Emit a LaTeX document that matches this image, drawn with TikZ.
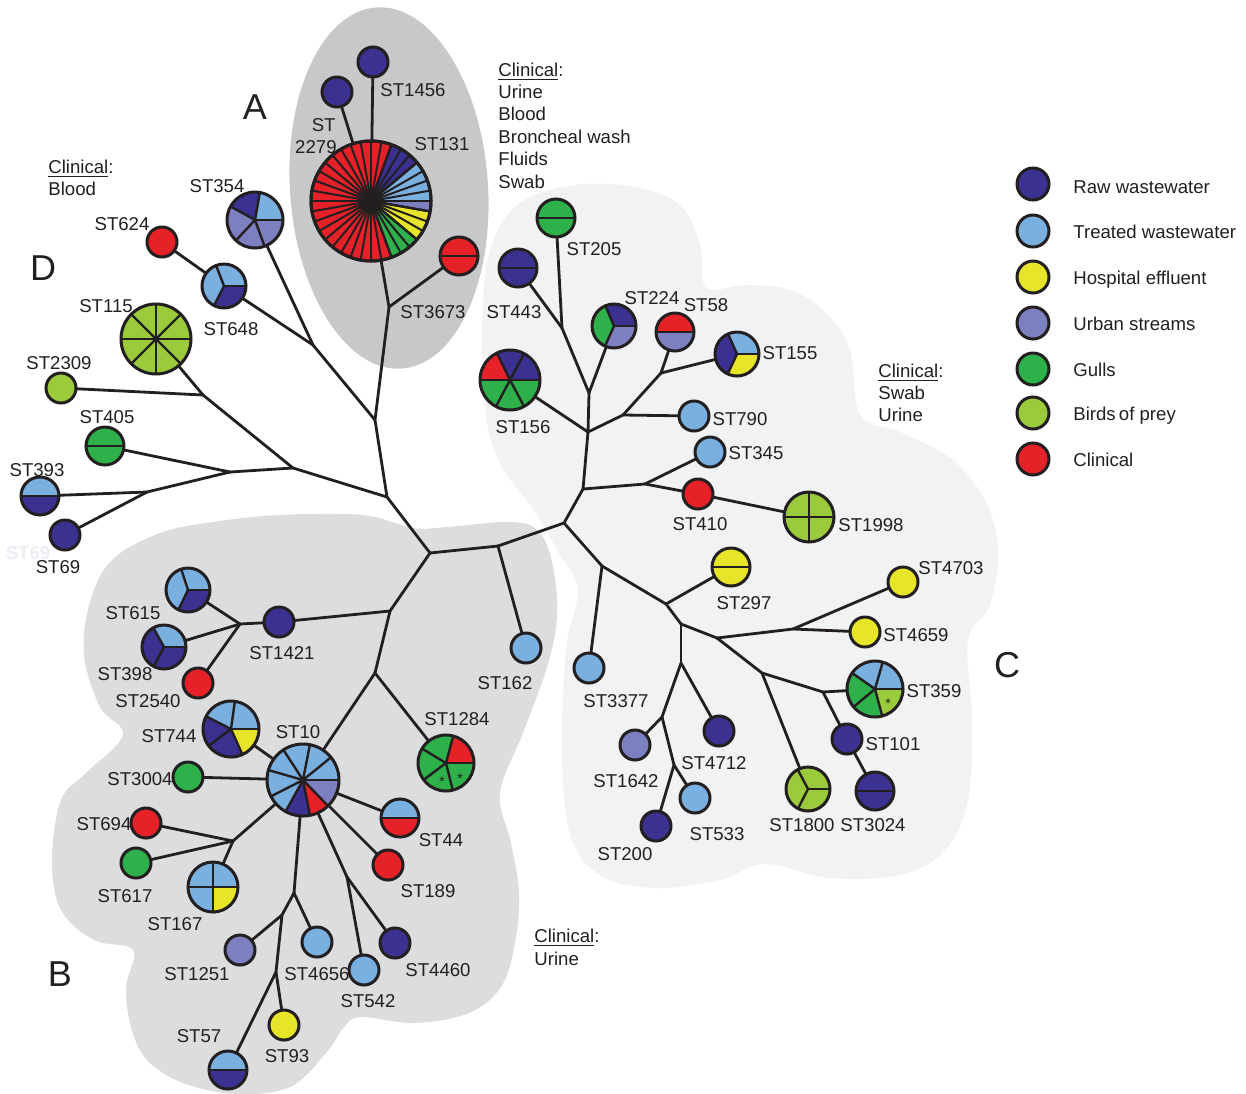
\documentclass[tikz,border=0pt]{standalone}
\usepackage{fontspec}
\setmainfont{Liberation Sans}
\definecolor{ink}{HTML}{231F20}
\definecolor{rawww}{HTML}{3A3191}
\definecolor{treated}{HTML}{7AB0DF}
\definecolor{hosp}{HTML}{E6E52A}
\definecolor{urban}{HTML}{7C80C0}
\definecolor{gulls}{HTML}{2EB04B}
\definecolor{prey}{HTML}{9BCB3C}
\definecolor{clin}{HTML}{E62128}
\definecolor{zoneA}{HTML}{C7C8CA}
\definecolor{zoneB}{HTML}{DCDDDF}
\definecolor{zoneC}{HTML}{F1F2F3}
\definecolor{ghost}{HTML}{EDEDF3}

\newcommand\lbfont{\fontsize{9.3pt}{11.2pt}\selectfont}
\newcommand\bigfont{\fontsize{18pt}{21pt}\selectfont}
\newcommand\starfont{\fontsize{7pt}{8pt}\selectfont}

\tikzset{
  edge/.style={line width=1.4pt, draw=ink, line cap=round},
  ring/.style={line width=1.5pt, draw=ink},
  seg/.style={line width=1.2pt, draw=ink},
  smp/.style={circle, inner sep=0pt, outer sep=0pt},
  lab/.style={anchor=base, inner sep=0pt, font=\lbfont, text=ink},
  labw/.style={lab, anchor=base west},
  labe/.style={lab, anchor=base east},
  zonelabel/.style={anchor=base, inner sep=0pt, font=\bigfont, text=ink},
  starmark/.style={anchor=base, inner sep=0pt, font=\starfont, text=ink},
}

% single-colour sample: name, x, y, radius, colour
\newcommand\spot[5]{\node[smp, ring, fill=#5, minimum size=#4pt] (#1) at (#2,#3) {};}
% pie sample: name, x, y, radius, list start/end/colour
\newcommand\piespot[5]{%
  \node[smp, minimum size=#4pt] (#1) at (#2,#3) {};
  \foreach \a/\b/\col in {#5}{\fill[\col] (#1.center) -- ++(\a:#4) arc[start angle=\a, end angle=\b, radius=#4] -- cycle;}
  \foreach \a/\b/\col in {#5}{\draw[seg] (#1.center) -- ++(\a:#4);}
  \draw[ring] (#1.center) circle[radius=#4];
}

\begin{document}
\begin{tikzpicture}[x=0.5pt,y=0.5pt]
\useasboundingbox (0,0) rectangle (1246,-1093);
\fill[white] (0,0) rectangle (1246,-1093);

% ---------- cluster backgrounds ----------
\fill[zoneC] plot[smooth cycle, tension=0.6] coordinates {
 (482,-330) (490,-250) (520,-203) (575,-185) (635,-187) (680,-205) (700,-245)
 (706,-288) (745,-285) (790,-290) (825,-312) (850,-350) (860,-415) (900,-432)
 (950,-458) (985,-500) (998,-550) (990,-605) (968,-640) (972,-720) (968,-800)
 (945,-850) (900,-875) (830,-878) (765,-864) (720,-880) (660,-888) (605,-878)
 (572,-840) (562,-760) (566,-650) (578,-590) (560,-555) (535,-512) (500,-463)
 (485,-410)};
\fill[zoneB] plot[smooth cycle, tension=0.6] coordinates {
 (112,-560) (160,-533) (213,-522) (280,-515) (363,-515) (413,-528) (447,-527)
 (513,-522) (540,-533) (553,-567) (557,-617) (547,-667) (523,-733) (500,-793)
 (511,-843) (519,-893) (515,-943) (501,-987) (469,-1013) (415,-1023) (361,-1017)
 (344,-1027) (326,-1053) (290,-1087) (236,-1094) (183,-1083) (147,-1060)
 (131,-1027) (126,-987) (133,-950) (94,-940) (61,-910) (52,-860) (61,-800)
 (86,-773) (123,-735) (100,-707) (84,-655) (90,-602)};
\fill[zoneA, rotate around={4:(389,-188)}] (389,-188) ellipse[x radius=99, y radius=181];

% ---------- cluster A ----------
\spot{s1456}{373}{-62}{15}{rawww}
\spot{s2279}{337}{-92}{15}{rawww}
\piespot{s131}{371}{-201}{60}{0/40/treated,40/70/rawww,70/290/clin,290/320/gulls,320/350/hosp,350/360/urban}
\foreach \t in {0,10,...,350}{\draw[seg, line width=1pt] (s131.center) -- ++(\t:60);}
\draw[ring] (s131.center) circle[radius=60];
\piespot{s3673}{459}{-256}{19}{0/180/clin,180/360/clin}

% ---------- cluster D ----------
\piespot{s354}{255}{-220}{28}{0/80/treated,80/151/rawww,151/227/urban,227/290/urban,290/360/urban}
\spot{s624}{162}{-242}{15}{clin}
\piespot{s648}{224}{-286}{22}{0/111/treated,111/243/treated,243/360/rawww}
\piespot{s115}{156}{-339}{35}{0/45/prey,45/90/prey,90/135/prey,135/180/prey,180/225/prey,225/270/prey,270/315/prey,315/360/prey}
\spot{s2309}{61}{-388}{15}{prey}
\piespot{s405}{105}{-446}{19}{0/180/gulls,180/360/gulls}
\piespot{s393}{40}{-496}{19}{0/180/treated,180/360/rawww}
\spot{s69}{65}{-535}{15}{rawww}

% ---------- cluster B ----------
\piespot{s615}{188}{-590}{22}{0/108/treated,108/244/treated,244/360/rawww}
\piespot{s398}{164}{-647}{22}{0/119/treated,119/242/rawww,242/360/rawww}
\spot{s2540}{198}{-683}{15}{clin}
\spot{s1421}{279}{-622}{15}{rawww}
\spot{s162}{526}{-648}{15}{treated}
\piespot{s744}{231}{-729}{28}{0/82/treated,82/153/treated,153/217/rawww,217/294/rawww,294/360/hosp}
\piespot{s10}{303}{-780}{36}{0/39/treated,39/79/treated,79/123/treated,123/164/treated,164/207/treated,207/241/treated,241/281/rawww,281/314/clin,314/360/urban}
\piespot{s1284}{446}{-763}{28}{0/75/clin,75/149/gulls,149/217/gulls,217/284/gulls,284/360/gulls}
\spot{s3004}{188}{-777}{15}{gulls}
\spot{s694}{146}{-823}{15}{clin}
\spot{s617}{136}{-863}{15}{gulls}
\piespot{s167}{213}{-887}{25}{0/90/treated,90/180/treated,180/270/treated,270/360/hosp}
\piespot{s44}{400}{-818}{19}{0/180/treated,180/360/clin}
\spot{s189}{388}{-865}{15}{clin}
\spot{s4460}{395}{-943}{15}{rawww}
\spot{s542}{364}{-970}{15}{treated}
\spot{s4656}{317}{-942}{15}{treated}
\spot{s1251}{240}{-950}{15}{urban}
\spot{s93}{284}{-1025}{15}{hosp}
\piespot{s57}{228}{-1070}{19}{0/180/treated,180/360/rawww}

% ---------- cluster C ----------
\piespot{s205}{556}{-218}{19}{0/180/gulls,180/360/gulls}
\piespot{s443}{518}{-268}{19}{0/180/rawww,180/360/rawww}
\piespot{s224}{614}{-326}{22}{0/113/rawww,113/246/gulls,246/360/urban}
\piespot{s58}{675}{-332}{19}{0/180/clin,180/360/urban}
\piespot{s155}{737}{-354}{22}{0/114/treated,114/245/rawww,245/360/hosp}
\piespot{s156}{510}{-380}{30}{0/62/rawww,62/116/rawww,116/180/clin,180/242/gulls,242/298/gulls,298/360/gulls}
\spot{s790}{694}{-416}{15}{treated}
\spot{s345}{710}{-452}{15}{treated}
\spot{s410}{698}{-494}{15}{clin}
\piespot{s1998}{809}{-517}{25}{0/90/prey,90/180/prey,180/270/prey,270/360/prey}
\piespot{s297}{731}{-567}{19}{0/180/hosp,180/360/hosp}
\spot{s4703}{903}{-582}{15}{hosp}
\spot{s4659}{865}{-632}{15}{hosp}
\piespot{s359}{875}{-689}{28}{0/74/treated,74/145/treated,145/220/gulls,220/285/gulls,285/360/prey}
\spot{s3377}{589}{-668}{15}{treated}
\spot{s4712}{719}{-731}{15}{rawww}
\spot{s1642}{635}{-745}{15}{urban}
\spot{s101}{847}{-739}{15}{rawww}
\piespot{s3024}{875}{-791}{19}{0/180/rawww,180/360/rawww}
\piespot{s1800}{808}{-789}{22}{0/118/prey,118/243/prey,243/360/prey}
\spot{s533}{695}{-798}{15}{treated}
\spot{s200}{656}{-826}{15}{rawww}

% asterisks inside segments
\node[starmark] (k1) at (442,-786) {*};
\node[starmark] (k2) at (460,-783) {*};
\node[starmark] (k3) at (888,-708) {*};

% ---------- branch points ----------
\coordinate (h0) at (387,-497);
\coordinate (jA1) at (375,-420);
\coordinate (jA2) at (389,-307);
\coordinate (jD0) at (313,-345);
\coordinate (jD2) at (293,-468);
\coordinate (jD3) at (203,-395);
\coordinate (jD4) at (230,-472);
\coordinate (jD5) at (147,-492);
\coordinate (jB1) at (430,-553);
\coordinate (jB2) at (498,-546);
\coordinate (jB3) at (390,-611);
\coordinate (jB4) at (240,-624);
\coordinate (jB5) at (375,-673);
\coordinate (jB6) at (233,-841);
\coordinate (jB7) at (347,-877);
\coordinate (jB8) at (294,-893);
\coordinate (jB9) at (282,-915);
\coordinate (jB10) at (276,-972);
\coordinate (jC0) at (564,-523);
\coordinate (jC1) at (583,-489);
\coordinate (jC2) at (645,-484);
\coordinate (jC3) at (588,-432);
\coordinate (jC4) at (623,-415);
\coordinate (jC6) at (661,-373);
\coordinate (jC7) at (589,-393);
\coordinate (jC8) at (562,-328);
\coordinate (jC5) at (602,-566);
\coordinate (jC9) at (666,-604);
\coordinate (jC10) at (681,-624);
\coordinate (jC11) at (717,-638);
\coordinate (jC12) at (681,-663);
\coordinate (jC13) at (793,-629);
\coordinate (jC14) at (762,-673);
\coordinate (jC15) at (823,-692);
\coordinate (jC16) at (662,-717);
\coordinate (jC17) at (674,-765);

% ---------- tree ----------
\foreach \u/\v in {h0/jA1, jA1/jA2, jA2/s131, jA2/s3673, s131/s1456, s131/s2279,
  jA1/jD0, jD0/s354, jD0/s648, s648/s624,
  h0/jD2, jD2/jD3, jD3/s115, jD3/s2309, jD2/jD4, jD4/s405, jD4/jD5, jD5/s393, jD5/s69,
  h0/jB1, jB1/jB2, jB2/s162, jB2/jC0, jB1/jB3, jB3/s1421, s1421/jB4,
  jB4/s615, jB4/s398, jB4/s2540, jB3/jB5, jB5/s10, jB5/s1284,
  s10/s744, s10/s3004, s10/jB6, jB6/s694, jB6/s617, jB6/s167, s10/s44, s10/s189,
  s10/jB7, jB7/s542, jB7/s4460, s10/jB8, jB8/s4656, jB8/jB9, jB9/s1251, jB9/jB10,
  jB10/s93, jB10/s57,
  jC0/jC1, jC1/jC2, jC2/s345, jC2/s410, s410/s1998, jC1/jC3, jC3/s156, jC3/jC4,
  jC4/s790, jC4/jC6, jC6/s58, jC6/s155, jC3/jC7, jC7/s224, jC7/jC8, jC8/s205, jC8/s443,
  jC0/jC5, jC5/s3377, jC5/jC9, jC9/s297, jC9/jC10, jC10/jC11, jC10/jC12,
  jC11/jC13, jC13/s4703, jC13/s4659, jC11/jC14, jC14/jC15, jC15/s359, jC15/s101,
  s101/s3024, jC14/s1800, jC12/s4712, jC12/jC16, jC16/s1642, jC16/jC17,
  jC17/s533, jC17/s200}
  {\draw[edge] (\u) -- (\v);}

% ---------- sequence type labels ----------
\node[lab] (t1456) at (413,-96) {ST1456};
\node[labe] (t2279a) at (336,-131) {ST};
\node[labe] (t2279b) at (337,-153) {2279};
\node[lab] (t131) at (442,-150) {ST131};
\node[lab] (t3673) at (433,-318) {ST3673};

\node[lab] (t354) at (217,-192) {ST354};
\node[lab] (t624) at (122,-230) {ST624};
\node[lab] (t115) at (106,-312) {ST115};
\node[lab] (t648) at (231,-335) {ST648};
\node[lab] (t2309) at (59,-369) {ST2309};
\node[lab] (t405) at (107,-423) {ST405};
\node[lab] (t393) at (37,-476) {ST393};
\node[lab, text=ghost, font=\lbfont\bfseries] (g69) at (28,-559) {ST69};
\node[lab] (t69) at (58,-573) {ST69};

\node[lab] (t615) at (133,-619) {ST615};
\node[lab] (t398) at (125,-680) {ST398};
\node[lab] (t2540) at (148,-707) {ST2540};
\node[lab] (t1421) at (282,-659) {ST1421};
\node[lab] (t162) at (505,-689) {ST162};
\node[lab] (t1284) at (457,-725) {ST1284};
\node[lab] (t744) at (169,-742) {ST744};
\node[lab] (t10) at (298,-738) {ST10};
\node[lab] (t3004) at (140,-785) {ST3004};
\node[lab] (t694) at (104,-830) {ST694};
\node[lab] (t617) at (125,-902) {ST617};
\node[lab] (t167) at (175,-930) {ST167};
\node[lab] (t44) at (441,-846) {ST44};
\node[lab] (t189) at (428,-897) {ST189};
\node[lab] (t1251) at (197,-980) {ST1251};
\node[lab] (t4656) at (317,-980) {ST4656};
\node[lab] (t542) at (368,-1007) {ST542};
\node[lab] (t4460) at (438,-976) {ST4460};
\node[lab] (t57) at (199,-1042) {ST57};
\node[lab] (t93) at (287,-1062) {ST93};

\node[lab] (t205) at (594,-255) {ST205};
\node[lab] (t443) at (514,-318) {ST443};
\node[lab] (t224) at (652,-304) {ST224};
\node[lab] (t58) at (706,-311) {ST58};
\node[lab] (t155) at (790,-359) {ST155};
\node[lab] (t156) at (523,-433) {ST156};
\node[lab] (t790) at (740,-425) {ST790};
\node[lab] (t345) at (756,-459) {ST345};
\node[lab] (t410) at (700,-530) {ST410};
\node[lab] (t1998) at (871,-531) {ST1998};
\node[lab] (t297) at (744,-609) {ST297};
\node[lab] (t4703) at (951,-574) {ST4703};
\node[lab] (t4659) at (916,-641) {ST4659};
\node[lab] (t359) at (934,-697) {ST359};
\node[lab] (t3377) at (616,-707) {ST3377};
\node[lab] (t4712) at (714,-769) {ST4712};
\node[lab] (t1642) at (626,-787) {ST1642};
\node[lab] (t101) at (893,-750) {ST101};
\node[lab] (t1800) at (802,-831) {ST1800};
\node[lab] (t3024) at (873,-831) {ST3024};
\node[lab] (t533) at (717,-840) {ST533};
\node[lab] (t200) at (625,-860) {ST200};

% ---------- cluster letters ----------
\node[zonelabel] (zA) at (255,-119) {A};
\node[zonelabel] (zB) at (60,-986) {B};
\node[zonelabel] (zC) at (1007,-677) {C};
\node[zonelabel] (zD) at (43,-280) {D};

% ---------- clinical sources ----------
\node[labw] (cA0) at (498,-76) {\underline{Clinical}:};
\node[labw] (cA1) at (498,-98) {Urine};
\node[labw] (cA2) at (498,-120) {Blood};
\node[labw] (cA3) at (498,-143) {Broncheal wash};
\node[labw] (cA4) at (498,-165) {Fluids};
\node[labw] (cA5) at (498,-188) {Swab};

\node[labw] (cD0) at (48,-173) {\underline{Clinical}:};
\node[labw] (cD1) at (48,-195) {Blood};

\node[labw] (cC0) at (878,-377) {\underline{Clinical}:};
\node[labw] (cC1) at (878,-399) {Swab};
\node[labw] (cC2) at (878,-421) {Urine};

\node[labw] (cB0) at (534,-942) {\underline{Clinical}:};
\node[labw] (cB1) at (534,-965) {Urine};

% ---------- legend ----------
\spot{k1}{1033}{-184}{16}{rawww}
\spot{k2}{1033}{-231}{16}{treated}
\spot{k3}{1033}{-277}{16}{hosp}
\spot{k4}{1033}{-323}{16}{urban}
\spot{k5}{1033}{-369}{16}{gulls}
\spot{k6}{1033}{-413}{16}{prey}
\spot{k7}{1033}{-459}{16}{clin}
\node[labw] (l1) at (1073,-193) {Raw wastewater};
\node[labw] (l2) at (1073,-238) {Treated wastewater};
\node[labw] (l3) at (1073,-284) {Hospital effluent};
\node[labw] (l4) at (1073,-330) {Urban streams};
\node[labw] (l5) at (1073,-376) {Gulls};
\node[labw] (l6) at (1073,-420) {Birds\hspace{-1pt} of prey};
\node[labw] (l7) at (1073,-466) {Clinical};
\end{tikzpicture}
\end{document}
